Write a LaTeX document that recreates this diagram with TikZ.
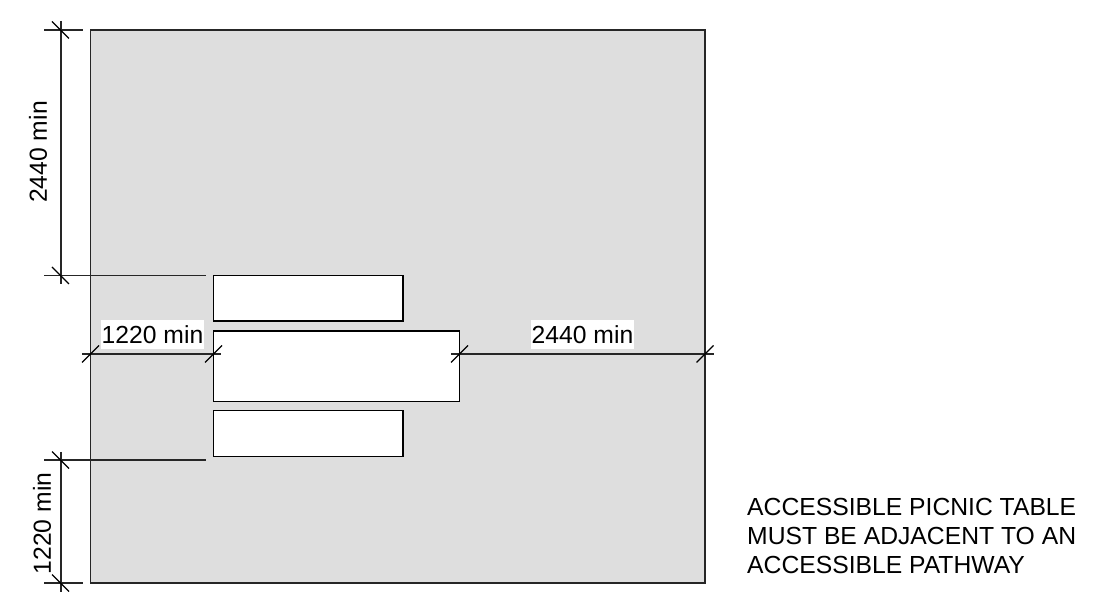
\documentclass[tikz,border=0pt]{standalone}
\usepackage{fontspec}
\setmainfont{Liberation Sans}
\tikzset{
  x=1pt,y=-1pt,
  dimline/.style={draw=black!85,line width=1.2pt},
  tick/.style={draw=black,line width=1.2pt},
  tablebox/.style={draw=black,line width=1.2pt,fill=white},
  lab/.style={font=\fontsize{24.7}{29}\selectfont,inner sep=0pt},
  whitelab/.style={lab,fill=white,minimum width=103pt,minimum height=29pt},
}
\begin{document}
\begin{tikzpicture}
\useasboundingbox (0,0) rectangle (1106,601);
\fill[white] (0,0) rectangle (1106,601);
\draw[fill=black!13,draw=black!85,line width=1.2pt] (90.5,30) rectangle (705,583);
% tables
\draw[tablebox] (213.5,275.5) rectangle (403,321);
\draw[tablebox] (213.5,331) rectangle (459.5,401.5);
\draw[tablebox] (213.5,410.5) rectangle (403,456.5);
% vertical dimensions
\draw[dimline] (44,30) -- (83,30);
\draw[dimline] (44,275.5) -- (206,275.5);
\draw[dimline] (44,460) -- (206,460);
\draw[dimline] (44,583) -- (83,583);
\draw[dimline] (61,21) -- (61,284);
\draw[dimline] (61,452) -- (61,592);
\foreach \yy in {30,275.5,460,583}
  \draw[tick] (52,\yy-8.5) -- (69,\yy+8.5);
% horizontal dimensions
\draw[dimline] (82,354) -- (221,354);
\draw[dimline] (451,354) -- (714,354);
\foreach \xx in {90.5,213.5,459.5,705}
  \draw[tick] (\xx-8.5,362.5) -- (\xx+8.5,345.5);
% labels
\node[whitelab] (a) at (152.5,334.5) {1220 min};
\node[whitelab] (b) at (582.5,334.5) {2440 min};
\node[lab,rotate=90] (c) at (38,152) {2440 min};
\node[lab,rotate=90] (d) at (42,523.5) {1220 min};
\node[lab,align=left,anchor=north west] (e) at (747,498.5) {ACCESSIBLE PICNIC TABLE\\MUST BE ADJACENT TO AN\\ACCESSIBLE PATHWAY};
\end{tikzpicture}
\end{document}
